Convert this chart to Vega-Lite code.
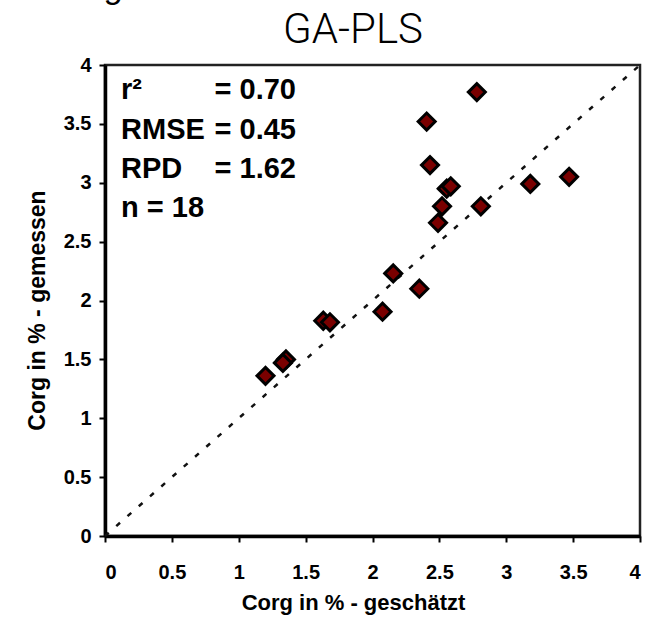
{
  "$schema": "https://vega.github.io/schema/vega-lite/v6.json",
  "autosize": "none",
  "width": 535,
  "height": 471,
  "padding": {"left": 105, "top": 65, "right": 9, "bottom": 88},
  "background": "white",
  "config": {
    "font": "Liberation Sans",
    "view": {"stroke": "#222", "strokeWidth": 2.5},
    "axis": {"grid": false, "domainColor": "#000", "domainWidth": 3.5, "tickColor": "#000", "tickWidth": 2, "tickSize": 6,
      "labelColor": "#000", "labelFont": "Liberation Sans", "labelFontSize": 20, "labelFontWeight": "bold",
      "titleColor": "#000", "titleFont": "Liberation Sans", "titleFontSize": 22, "titleFontWeight": "bold"}
  },
  "datasets": {
    "pts": [
      {"est": 2.78, "meas": 3.77}, {"est": 2.405, "meas": 3.52}, {"est": 2.43, "meas": 3.15},
      {"est": 2.555, "meas": 2.95}, {"est": 2.585, "meas": 2.97}, {"est": 2.52, "meas": 2.80},
      {"est": 2.49, "meas": 2.66}, {"est": 2.81, "meas": 2.80}, {"est": 3.18, "meas": 2.99},
      {"est": 3.47, "meas": 3.05}, {"est": 2.155, "meas": 2.23}, {"est": 2.35, "meas": 2.10},
      {"est": 2.075, "meas": 1.905}, {"est": 1.632, "meas": 1.828}, {"est": 1.682, "meas": 1.815},
      {"est": 1.353, "meas": 1.50}, {"est": 1.33, "meas": 1.47}, {"est": 1.20, "meas": 1.36}
    ],
    "diag": [{"est": 0, "meas": 0}, {"est": 4, "meas": 4}],
    "stats": [
      {"x": 0.12, "y": 3.711, "t": "r²"},
      {"x": 0.12, "y": 3.372, "t": "RMSE"},
      {"x": 0.12, "y": 3.04, "t": "RPD"},
      {"x": 0.12, "y": 2.709, "t": "n = 18"},
      {"x": 0.819, "y": 3.711, "t": "= 0.70"},
      {"x": 0.819, "y": 3.372, "t": "= 0.45"},
      {"x": 0.819, "y": 3.04, "t": "= 1.62"}
    ],
    "cut": [{"x": -0.22, "y": 4.57, "t": "org"}],
    "head": [{"x": 1.854, "y": 4.187, "t": "GA-PLS"}]
  },
  "layer": [
    {
      "data": {"name": "diag"},
      "mark": {"type": "line", "color": "#111", "strokeWidth": 2.5, "strokeDash": [5, 10]},
      "encoding": {
        "x": {"field": "est", "type": "quantitative", "scale": {"domain": [0, 4], "nice": false},
          "axis": {"title": "Corg in % - geschätzt", "values": [0, 0.5, 1, 1.5, 2, 2.5, 3, 3.5, 4], "format": "~g", "labelPadding": 20, "titlePadding": 10, "titleX": 248}},
        "y": {"field": "meas", "type": "quantitative", "scale": {"domain": [0, 4], "nice": false},
          "axis": {"title": "Corg in % - gemessen", "values": [0, 0.5, 1, 1.5, 2, 2.5, 3, 3.5, 4], "format": "~g", "labelPadding": 8, "titlePadding": 14, "titleFontSize": 23, "titleY": 245}}
      }
    },
    {
      "data": {"name": "pts"},
      "mark": {"type": "point", "shape": "diamond", "filled": true, "fill": "#7a0000", "stroke": "#000", "strokeWidth": 3, "size": 290, "opacity": 1},
      "encoding": {
        "x": {"field": "est", "type": "quantitative"},
        "y": {"field": "meas", "type": "quantitative"}
      }
    },
    {
      "data": {"name": "stats"},
      "mark": {"type": "text", "align": "left", "baseline": "alphabetic", "font": "Liberation Sans", "fontSize": 29, "fontWeight": "bold", "color": "#000"},
      "encoding": {
        "x": {"field": "x", "type": "quantitative"},
        "y": {"field": "y", "type": "quantitative"},
        "text": {"field": "t"}
      }
    },
    {
      "data": {"name": "cut"},
      "mark": {"type": "text", "align": "left", "baseline": "alphabetic", "font": "Liberation Sans", "fontSize": 34, "fontStyle": "italic", "color": "#000", "clip": false},
      "encoding": {
        "x": {"field": "x", "type": "quantitative"},
        "y": {"field": "y", "type": "quantitative"},
        "text": {"field": "t"}
      }
    },
    {
      "data": {"name": "head"},
      "mark": {"type": "text", "align": "center", "baseline": "alphabetic", "font": "Roboto", "fontWeight": 300, "fontSize": 42, "color": "#000", "clip": false},
      "encoding": {
        "x": {"field": "x", "type": "quantitative"},
        "y": {"field": "y", "type": "quantitative"},
        "text": {"field": "t"}
      }
    }
  ]
}
